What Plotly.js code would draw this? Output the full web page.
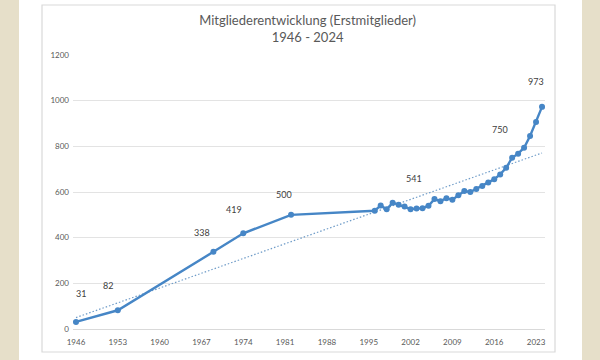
<!DOCTYPE html>
<html>
<head>
<meta charset="utf-8">
<script src="https://cdn.plot.ly/plotly-3.0.1.min.js"></script>
<style>html,body{margin:0;padding:0;background:#e6dfc9;}#chart{width:600px;height:360px;}</style>
</head>
<body>
<div id="chart"></div>
<script>
// Data
const years = [1946, 1953, 1969, 1974, 1982,
  1996, 1997, 1998, 1999, 2000, 2001, 2002, 2003, 2004, 2005, 2006, 2007, 2008, 2009,
  2010, 2011, 2012, 2013, 2014, 2015, 2016, 2017, 2018, 2019, 2020, 2021, 2022, 2023, 2024];
const members = [31, 82, 338, 419, 500,
  518, 541, 524, 553, 544, 536, 525, 528, 529, 540, 569, 560, 573, 566,
  586, 604, 600, 613, 626, 642, 656, 677, 706, 750, 768, 794, 845, 907, 973];
const labelYears = [1946, 1953, 1969, 1974, 1982, 1997, 2019, 2024];
const tickYears = [1946, 1953, 1960, 1967, 1974, 1981, 1988, 1995, 2002, 2009, 2016, 2023];
const yTicks = [0, 200, 400, 600, 800, 1000, 1200];
const titleText = 'Mitgliederentwicklung (Erstmitglieder)<br>1946 - 2024';

// label offsets in pixels (styling)
const labelShift = {1946:[5,28],1953:[-10,25],1969:[-11,19],1974:[-9,24],1982:[-7,20],1997:[33,27],2019:[-12,28],2024:[-6,25]};

// Linear trendline (least squares, like Excel)
const n = years.length;
const mx = years.reduce((a,b)=>a+b,0)/n;
const my = members.reduce((a,b)=>a+b,0)/n;
let sxy=0, sxx=0;
for (let i=0;i<n;i++){ sxy += (years[i]-mx)*(members[i]-my); sxx += (years[i]-mx)**2; }
const slope = sxy/sxx, icpt = my - slope*mx;
const tx = [years[0], years[n-1]];
const ty = tx.map(x => icpt + slope*x);

const blue = '#4686c6';
const traces = [
  {x: tx, y: ty, mode: 'lines', line: {color: '#6f9cc8', width: 1.2, dash: '1.5px,2px'}, hoverinfo: 'skip'},
  {x: years, y: members, mode: 'lines+markers', line: {color: blue, width: 2.4},
   marker: {color: blue, size: 6}}
];

const annotations = labelYears.map(yr => {
  const v = members[years.indexOf(yr)];
  const s = labelShift[yr];
  return {x: yr, y: v, text: String(v), showarrow: false, xshift: s[0], yshift: s[1],
    font: {family: 'Lato, sans-serif', size: 9, color: '#404040'}};
});

// plot area: x 73..545, y 55..329
const px = X => (X-73)/472, py = Y => (329-Y)/274;
const shapes = [
  {type:'rect', xref:'paper', yref:'paper', x0:px(19), x1:px(582), y0:py(362), y1:py(-2), fillcolor:'#ffffff', line:{width:0}, layer:'below'},
  {type:'rect', xref:'paper', yref:'paper', x0:px(42), x1:px(555), y0:py(352), y1:py(5), fillcolor:'#ffffff', line:{color:'#d9d9d9', width:1.2}, layer:'below'}
];

const layout = {
  width: 600, height: 360,
  margin: {l: 73, r: 55, t: 55, b: 31},
  paper_bgcolor: '#e6dfc9',
  plot_bgcolor: 'rgba(0,0,0,0)',
  showlegend: false,
  font: {family: 'Lato, sans-serif', color: '#595959'},
  title: {text: titleText, x: 0.497, xanchor: 'center', xref: 'paper', y: 1 - 25/360, yanchor: 'top', yref: 'container',
    font: {family: 'Lato, sans-serif', size: 13, color: '#595959'}},
  xaxis: {type: 'linear', range: [1945.5, 2024.5], tickvals: tickYears, ticktext: tickYears.map(String),
    showgrid: false, zeroline: false, showline: true, linecolor: '#d9d9d9', linewidth: 1,
    ticks: '', ticklabelstandoff: 5, tickfont: {size: 8, color: '#595959'}, fixedrange: true},
  yaxis: {range: [0, 1200], tickvals: yTicks, showgrid: true, gridcolor: '#e3e3e3', gridwidth: 1,
    zeroline: false, showline: false, ticks: '', ticklabelstandoff: 3, tickfont: {size: 8, color: '#595959'}, fixedrange: true},
  shapes: shapes,
  annotations: annotations
};

Plotly.newPlot('chart', traces, layout, {displayModeBar: false, staticPlot: true});
</script>
</body>
</html>
